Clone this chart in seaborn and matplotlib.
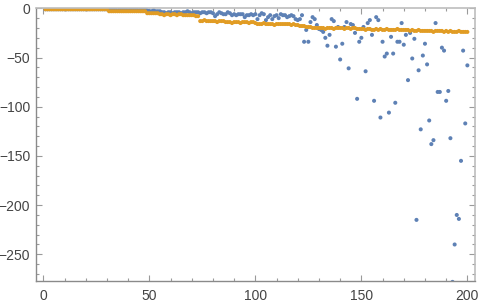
import numpy as np
import pandas as pd
import matplotlib
matplotlib.use("Agg")
import matplotlib.pyplot as plt
from matplotlib.ticker import MultipleLocator
import seaborn as sns

# x positions shared by both series
x_vals = list(range(1, 201))

# blue series
blue_y = [
    -1, -1, -1, -1, -1, -1, -1, -1, -1, -1,
    -1, -1, -1, -1, -1, -1, -1, -1, -1, -1,
    -1, -1, -1, -1, -1, -1, -1, -1, -1, -1,
    -1, -1, -1, -1, -2, -1, -1, -1, -1, -2,
    -1, -1, -1, -1, -2, -1, -1, -1, -2, -3,
    -3, -2, -3, -3, -3, -4, -4, -5, -4, -4,
    -5, -4, -4, -4, -5, -4, -4, -3, -4, -5,
    -4, -4, -4, -5, -4, -4, -5, -4, -4, -5,
    -8, -6, -4, -5, -6, -6, -4, -5, -7, -6,
    -7, -6, -6, -6, -9, -7, -7, -6, -7, -6,
    -11, -7, -5, -6, -12, -9, -7, -11, -8, -7,
    -10, -6, -7, -7, -9, -8, -7, -8, -11, -12,
    -11, -7, -34, -22, -34, -14, -9, -11, -17, -21,
    -22, -24, -30, -38, -27, -11, -13, -39, -19, -52,
    -36, -19, -14, -61, -16, -17, -25, -92, -34, -30,
    -19, -64, -15, -12, -27, -94, -9, -12, -111, -34,
    -49, -46, -106, -29, -46, -96, -34, -34, -15, -37,
    -27, -73, -25, -51, -31, -215, -63, -123, -48, -36,
    -57, -114, -138, -134, -15, -85, -85, -40, -43, -94,
    -84, -132, -278, -240, -210, -214, -155, -43, -117, -58,
]

# orange series
orange_y = [
    -1, -1, -1, -1, -1, -1, -1, -1, -1, -1,
    -1, -1, -1, -1, -1, -1, -1, -1, -1, -1,
    -1, -1, -1, -1, -1, -1, -1, -1, -1, -1,
    -3, -3, -3, -3, -3, -3, -3, -3, -3, -3,
    -3, -3, -3, -3, -3, -3, -3, -3, -5, -5,
    -5, -5, -5, -5, -6, -6, -7, -6, -6, -7,
    -6, -6, -7, -6, -6, -7, -7, -7, -7, -7,
    -7, -8, -8, -13, -13, -12, -13, -13, -13, -13,
    -13, -14, -13, -13, -13, -14, -14, -14, -15, -14,
    -14, -14, -15, -14, -14, -14, -15, -14, -14, -15,
    -16, -16, -16, -15, -16, -16, -16, -16, -17, -16,
    -16, -16, -16, -16, -16, -16, -17, -16, -17, -17,
    -18, -18, -18, -19, -19, -19, -20, -20, -20, -20,
    -20, -20, -21, -20, -20, -20, -21, -20, -20, -20,
    -20, -21, -20, -20, -21, -20, -20, -21, -21, -21,
    -21, -22, -21, -21, -22, -22, -21, -22, -21, -22,
    -22, -21, -22, -22, -22, -22, -21, -22, -22, -22,
    -22, -22, -23, -22, -23, -23, -22, -23, -23, -23,
    -23, -23, -23, -24, -23, -23, -23, -23, -24, -23,
    -24, -23, -24, -24, -24, -23, -24, -24, -24, -24,
]

BLUE = "#5e81b5"
ORANGE = "#e19c24"

df = pd.concat([
    pd.DataFrame({"x": x_vals, "y": blue_y, "series": "blue"}),
    pd.DataFrame({"x": x_vals, "y": orange_y, "series": "orange"}),
])

sns.set_style("ticks")
plt.rcParams["font.family"] = ["Liberation Sans", "DejaVu Sans"]

fig = plt.figure(figsize=(4.8, 3.04), dpi=100)
ax = fig.add_axes([35.7 / 480, 23 / 304, (475 - 35.7) / 480, (281 - 8) / 304])

sns.scatterplot(data=df, x="x", y="y", hue="series",
                palette={"blue": BLUE, "orange": ORANGE},
                s=8.5, linewidth=0, legend=False, ax=ax)

ax.set_xlim(-3.6, 203.6)
ax.set_ylim(-277.1, 0.3)
ax.set_xlabel("")
ax.set_ylabel("")

ax.xaxis.set_major_locator(MultipleLocator(50))
ax.xaxis.set_minor_locator(MultipleLocator(10))
ax.yaxis.set_major_locator(MultipleLocator(50))
ax.yaxis.set_minor_locator(MultipleLocator(10))

for side in ["left", "bottom"]:
    ax.spines[side].set_color("#8a8a8a")
    ax.spines[side].set_linewidth(1.0)
for side in ["top", "right"]:
    ax.spines[side].set_visible(True)
    ax.spines[side].set_color("#bdbdbd")
    ax.spines[side].set_linewidth(1.2)

ax.tick_params(which="both", direction="in", top=True, right=True,
               labeltop=False, labelright=False, color="#9a9a9a", width=0.8)
ax.tick_params(which="major", length=4)
ax.tick_params(which="minor", length=2.5)
ax.tick_params(axis="x", which="major", labelsize=10, labelcolor="#444444", pad=6)
ax.tick_params(axis="y", which="major", labelsize=10, labelcolor="#444444", pad=4)

fig.savefig("out.png", dpi=100)
